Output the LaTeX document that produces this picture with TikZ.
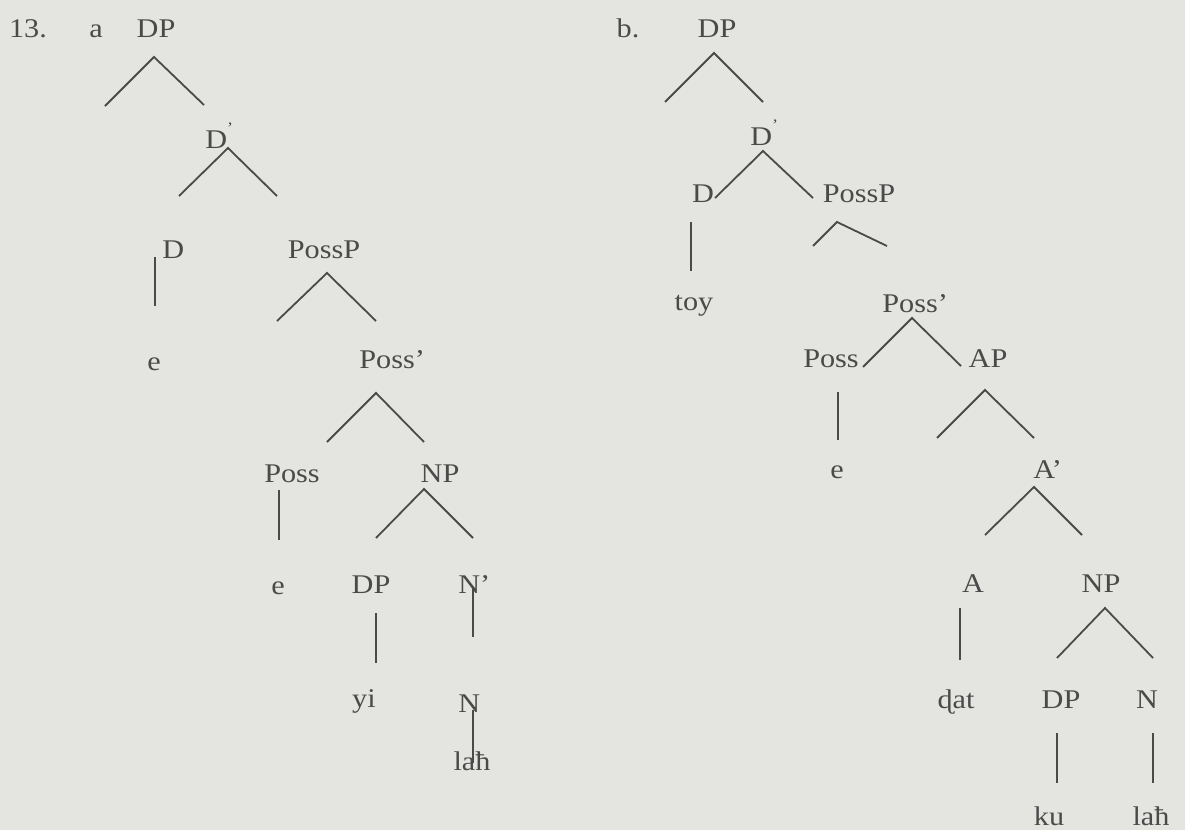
\documentclass[tikz,border=0pt]{standalone}
\usepackage{fontspec}
\setmainfont{Liberation Serif}[FakeStretch=1.12]
\definecolor{paper}{HTML}{E4E4E0}
\definecolor{ink}{HTML}{4A4A4A}
\tikzset{
  lbl/.style ={inner sep=0pt, anchor=base, text=ink},
  lblw/.style={lbl, anchor=base west},
  br/.style  ={draw=ink, line width=0.9pt},
}
\newcommand{\hibar}{\raisebox{1.2ex}{\footnotesize ’}}

\begin{document}
\begin{tikzpicture}[x=0.5pt, y=-0.5pt, font=\fontsize{13.5}{16}\selectfont]

  % ---- paper ----
  \fill[paper] (0,0) rectangle (1185,830);

  % ================= tree a =================
  \node[lbl] (num)  at (28,38) {13.};
  \node[lbl] (laba) at (96,38) {a};
  \node[lbl]  (a-dp)     at (156,38)  {DP};
  \node[lblw] (a-dbar)   at (205,148) {D\hibar};
  \node[lblw] (a-d)      at (162,258) {D};
  \node[lbl]  (a-e1)     at (154,370) {e};
  \node[lbl]  (a-possp)  at (324,258) {PossP};
  \node[lblw] (a-possbar) at (359,368) {Poss’};
  \node[lbl]  (a-poss)   at (292,482) {Poss};
  \node[lbl]  (a-np)     at (440,482) {NP};
  \node[lbl]  (a-e2)     at (278,594) {e};
  \node[lbl]  (a-dp2)    at (371,593) {DP};
  \node[lblw] (a-nbar)   at (458,593) {N’};
  \node[lbl]  (a-yi)     at (364,707) {yi};
  \node[lblw] (a-n)      at (458,712) {N};
  \node[lbl]  (a-lah)    at (472,770) {laħ};

  % branch points (t = top, l = left end, r = right end)
  \coordinate (a-dp-t) at (154,57);     \coordinate (a-dp-l) at (105,106);   \coordinate (a-dp-r) at (204,105);
  \coordinate (a-dbar-t) at (228,148);  \coordinate (a-dbar-l) at (179,196); \coordinate (a-dbar-r) at (277,196);
  \coordinate (a-possp-t) at (327,273); \coordinate (a-possp-l) at (277,321); \coordinate (a-possp-r) at (376,321);
  \coordinate (a-possbar-t) at (376,393); \coordinate (a-possbar-l) at (327,442); \coordinate (a-possbar-r) at (424,442);
  \coordinate (a-np-t) at (424,489);    \coordinate (a-np-l) at (376,538);   \coordinate (a-np-r) at (473,538);

  % vertical stems (u = upper end, b = lower end)
  \coordinate (a-d-u) at (155,257);     \coordinate (a-d-b) at (155,306);
  \coordinate (a-poss-u) at (279,490);  \coordinate (a-poss-b) at (279,540);
  \coordinate (a-nbar-u) at (473,588);  \coordinate (a-nbar-b) at (473,637);
  \coordinate (a-dp2-u) at (376,613);   \coordinate (a-dp2-b) at (376,663);
  \coordinate (a-n-u) at (473,710);     \coordinate (a-n-b) at (473,763);

  % ================= tree b =================
  \node[lbl] (labb) at (628,38) {b.};
  \node[lbl]  (b-dp)     at (717,38)   {DP};
  \node[lblw] (b-dbar)   at (750,145)  {D\hibar};
  \node[lbl]  (b-d)      at (703,202)  {D};
  \node[lbl]  (b-possp)  at (859,202)  {PossP};
  \node[lbl]  (b-toy)    at (694,310)  {toy};
  \node[lblw] (b-possbar) at (882,312) {Poss’};
  \node[lbl]  (b-poss)   at (831,367)  {Poss};
  \node[lbl]  (b-ap)     at (988,367)  {AP};
  \node[lbl]  (b-e)      at (837,478)  {e};
  \node[lblw] (b-abar)   at (1033,478) {A’};
  \node[lbl]  (b-a)      at (973,592)  {A};
  \node[lbl]  (b-np)     at (1101,592) {NP};
  \node[lbl]  (b-dat)    at (956,708)  {ɖat};
  \node[lbl]  (b-dp2)    at (1061,708) {DP};
  \node[lbl]  (b-n)      at (1147,708) {N};
  \node[lbl]  (b-ku)     at (1049,825) {ku};
  \node[lbl]  (b-lah)    at (1151,825) {laħ};

  \coordinate (b-dp-t) at (714,53);     \coordinate (b-dp-l) at (665,102);   \coordinate (b-dp-r) at (763,102);
  \coordinate (b-dbar-t) at (763,151);  \coordinate (b-dbar-l) at (715,198); \coordinate (b-dbar-r) at (813,198);
  \coordinate (b-possp-t) at (837,222); \coordinate (b-possp-l) at (813,246); \coordinate (b-possp-r) at (887,246);
  \coordinate (b-possbar-t) at (912,318); \coordinate (b-possbar-l) at (863,367); \coordinate (b-possbar-r) at (961,366);
  \coordinate (b-ap-t) at (985,390);    \coordinate (b-ap-l) at (937,438);   \coordinate (b-ap-r) at (1034,438);
  \coordinate (b-abar-t) at (1034,487); \coordinate (b-abar-l) at (985,535); \coordinate (b-abar-r) at (1082,535);
  \coordinate (b-np-t) at (1105,608);   \coordinate (b-np-l) at (1057,658);  \coordinate (b-np-r) at (1153,658);

  \coordinate (b-d-u) at (691,222);     \coordinate (b-d-b) at (691,271);
  \coordinate (b-poss-u) at (838,392);  \coordinate (b-poss-b) at (838,440);
  \coordinate (b-a-u) at (960,608);     \coordinate (b-a-b) at (960,660);
  \coordinate (b-dp2-u) at (1057,733);  \coordinate (b-dp2-b) at (1057,783);
  \coordinate (b-n-u) at (1153,733);    \coordinate (b-n-b) at (1153,783);

  % ---- branches ----
  \foreach \n in {a-dp,a-dbar,a-possp,a-possbar,a-np,
                  b-dp,b-dbar,b-possp,b-possbar,b-ap,b-abar,b-np}
    \draw[br] (\n-l) -- (\n-t) -- (\n-r);
  \foreach \n in {a-d,a-poss,a-nbar,a-dp2,a-n,
                  b-d,b-poss,b-a,b-dp2,b-n}
    \draw[br] (\n-u) -- (\n-b);

\end{tikzpicture}
\end{document}
